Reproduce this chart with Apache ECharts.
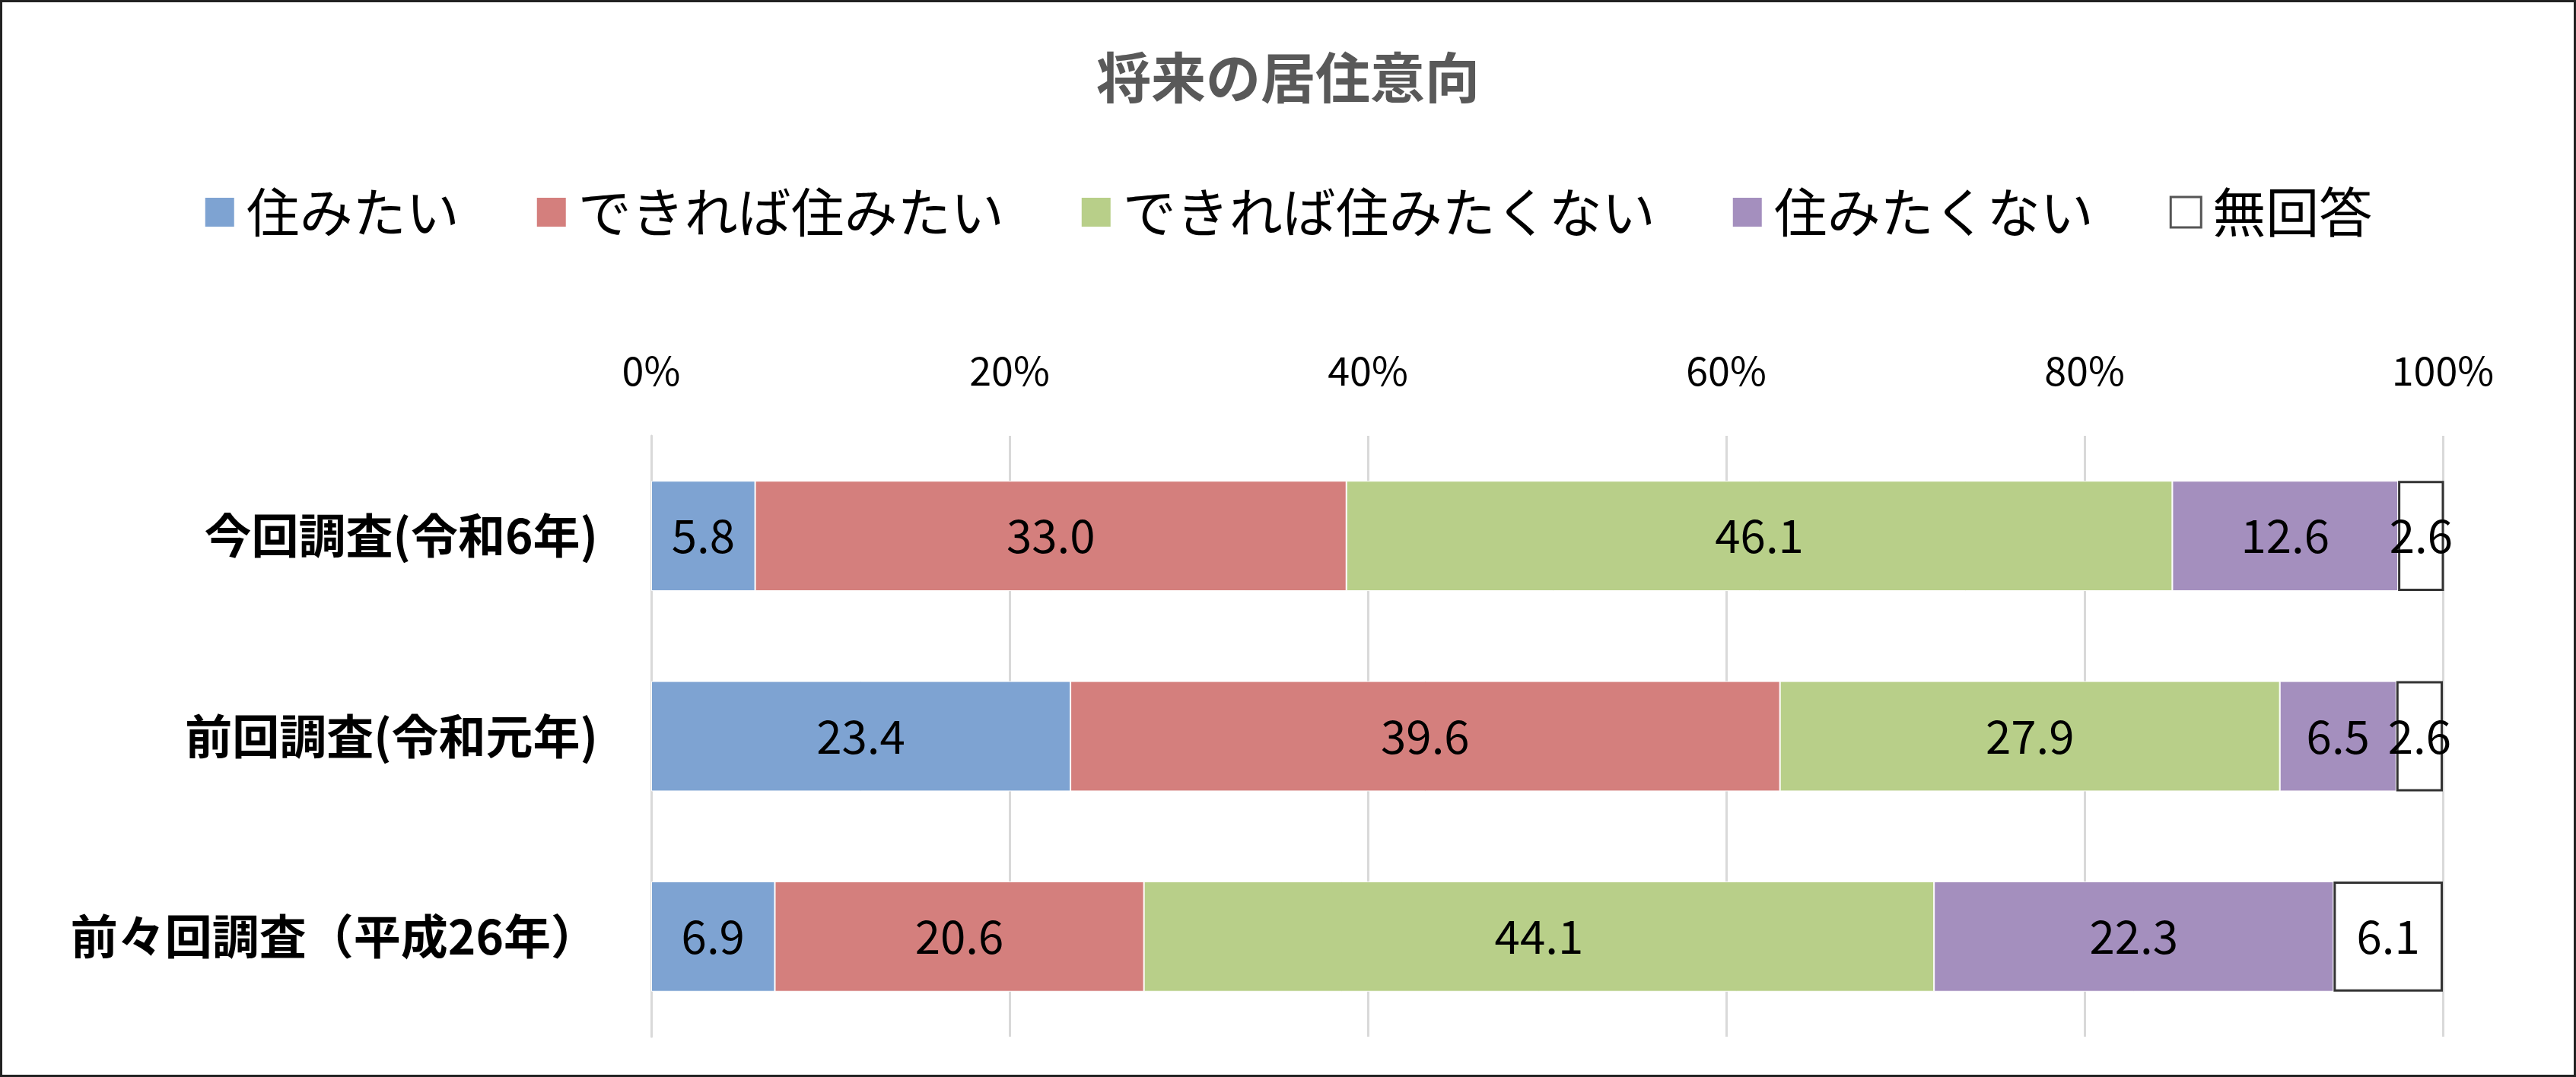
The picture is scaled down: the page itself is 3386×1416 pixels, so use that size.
<!DOCTYPE html>
<html><head><meta charset="utf-8">
<script src="https://cdn.jsdelivr.net/npm/echarts@6/dist/echarts.min.js"></script>
<style>html,body{margin:0;padding:0;background:#fff}#c{width:3380px;height:1410px;border:3px solid #222;box-sizing:content-box}</style>
</head><body><div id="c"></div>
<script>
const categories = ['今回調査(令和6年)', '前回調査(令和元年)', '前々回調査（平成26年）'];
const seriesNames = ['住みたい', 'できれば住みたい', 'できれば住みたくない', '住みたくない', '無回答'];
const s1 = [5.8, 23.4, 6.9];
const s2 = [33.0, 39.6, 20.6];
const s3 = [46.1, 27.9, 44.1];
const s4 = [12.6, 6.5, 22.3];
const s5 = [2.6, 2.6, 6.1];
const tickLabels = ['0%', '20%', '40%', '60%', '80%', '100%'];
const colors = ['#7EA3D2', '#D47F7D', '#B8CF89', '#A48FBE', '#FFFFFF'];
const values = [s1, s2, s3, s4, s5];
const font = '"Noto Sans CJK JP", "Noto Sans", sans-serif';
const chart = echarts.init(document.getElementById('c'));
chart.setOption({
  animation: false,
  title: { text: '将来の居住意向', left: 'center', top: 58,
    textStyle: { fontSize: 72, fontWeight: 'bold', color: '#595959', fontFamily: font } },
  legend: { top: 236, left: 'center', itemWidth: 40, itemHeight: 40, itemGap: 100,
    textStyle: { fontSize: 70, color: '#000', fontFamily: font, padding: [0, 0, 0, 10] },
    data: seriesNames.map((n, i) => ({ name: n, icon: 'rect',
      itemStyle: i === 4 ? { color: '#fff', borderColor: '#555', borderWidth: 3 } : {} })) },
  grid: { left: 853, right: 172, top: 570, bottom: 50 },
  xAxis: { type: 'value', position: 'top', min: 0, max: 100, interval: 20,
    axisLabel: { fontSize: 52, color: '#000', fontFamily: font, margin: 60,
      formatter: v => tickLabels[v / 20] },
    splitLine: { lineStyle: { color: '#D9D9D9', width: 3 } }, axisLine: { show: false }, axisTick: { show: false } },
  yAxis: { type: 'category', inverse: true, data: categories,
    axisLabel: { fontSize: 62, fontWeight: 'bold', color: '#000', fontFamily: font, margin: 70 },
    axisLine: { lineStyle: { color: '#D9D9D9', width: 3 } }, axisTick: { show: false } },
  series: seriesNames.map((n, i) => ({
    name: n, type: 'bar', stack: 'a', barWidth: '55%', data: values[i],
    itemStyle: { color: colors[i], borderColor: i === 4 ? '#333' : '#fff', borderWidth: i === 4 ? 3 : 1 },
    label: { show: true, position: 'inside', fontSize: 60, color: '#000', fontFamily: font,
      formatter: p => p.value.toFixed(1) }
  }))
});
</script></body></html>
